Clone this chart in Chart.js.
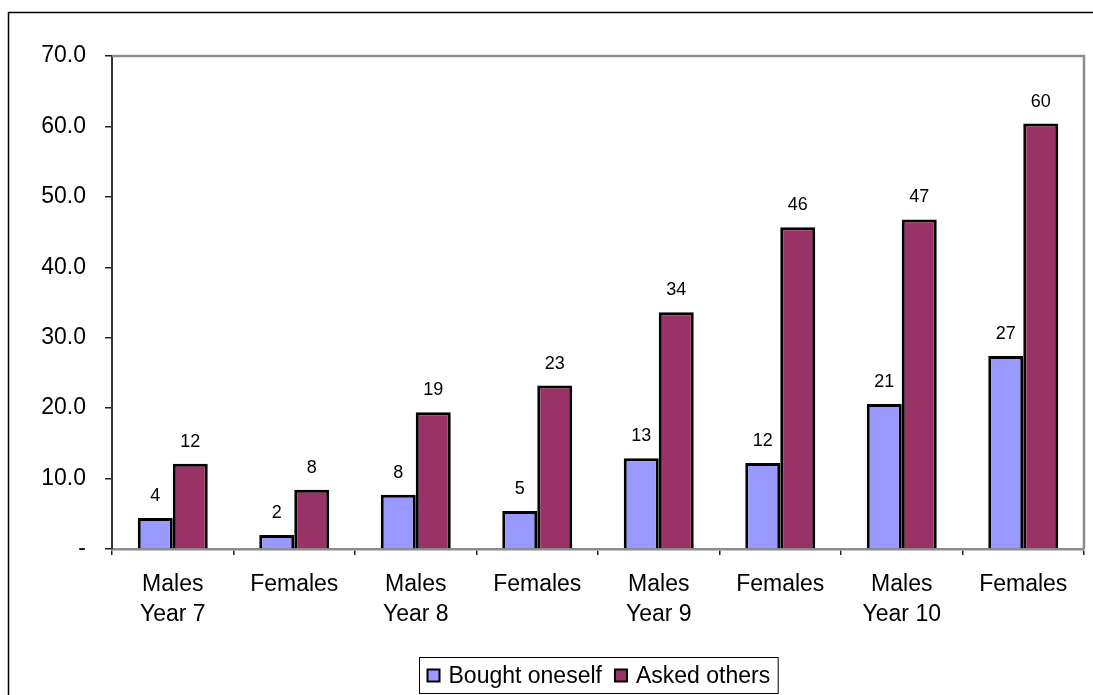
<!DOCTYPE html>
<html>
<head>
<meta charset="utf-8">
<script src="https://cdn.jsdelivr.net/npm/chart.js@4.4.0/dist/chart.umd.min.js"></script>
<style>
  html, body { margin: 0; padding: 0; background: #fff; }
  #wrap { width: 1093px; height: 695px; position: relative; }
</style>
</head>
<body>
<div id="wrap"><canvas id="BarChart" width="1093" height="695"></canvas></div>
<script>
const labels = [
  ['Males', 'Year 7'],
  'Females',
  ['Males', 'Year 8'],
  'Females',
  ['Males', 'Year 9'],
  'Females',
  ['Males', 'Year 10'],
  'Females',
];

const boughtOneself = [4.4, 2.0, 7.7, 5.4, 12.9, 12.2, 20.6, 27.4];
const askedOthers = [12.1, 8.4, 19.4, 23.2, 33.6, 45.7, 46.8, 60.4];

const font = 'Arial, "Liberation Sans", sans-serif';

// outer frame, plot border, value labels and legend box
const extras = {
  id: 'extras',
  beforeDraw(chart) {
    const ctx = chart.ctx;
    ctx.save();
    ctx.strokeStyle = '#000';
    ctx.lineWidth = 1.5;
    ctx.beginPath();
    ctx.moveTo(8.5, 695);
    ctx.lineTo(8.5, 12.5);
    ctx.lineTo(1093, 12.5);
    ctx.stroke();
    ctx.restore();
  },
  afterDatasetsDraw(chart) {
    const ctx = chart.ctx;
    const a = chart.chartArea;
    ctx.save();
    ctx.strokeStyle = '#8c8c8c';
    ctx.lineWidth = 2.5;
    ctx.beginPath();
    ctx.moveTo(a.left, a.top);
    ctx.lineTo(a.right, a.top);
    ctx.lineTo(a.right, a.bottom);
    ctx.stroke();

    // value labels
    ctx.fillStyle = '#000';
    ctx.font = '18px ' + font;
    ctx.textAlign = 'center';
    ctx.textBaseline = 'middle';
    chart.data.datasets.forEach((ds, i) => {
      chart.getDatasetMeta(i).data.forEach((bar, j) => {
        ctx.fillText(String(Math.round(ds.data[j])), bar.x, bar.y - 22);
      });
    });

    // legend
    ctx.font = '23px ' + font;
    ctx.textBaseline = 'middle';
    ctx.textAlign = 'left';
    const items = chart.data.datasets.map(ds => ({
      text: ds.label, color: ds.backgroundColor, w: ctx.measureText(ds.label).width
    }));
    const box = 12, gapBox = 9, gapItem = 13, pad = 8;
    let total = pad * 2;
    items.forEach((it, k) => { total += box + gapBox + it.w + (k ? gapItem : 0); });
    const cx = (a.left + a.right) / 2;
    const lx = Math.round(cx - total / 2) + 0.5;
    const ly = 657.5, lh = 36;
    ctx.strokeStyle = '#000';
    ctx.lineWidth = 1;
    ctx.strokeRect(lx, ly, total, lh);
    let x = lx + pad;
    const cy = ly + lh / 2;
    items.forEach((it, k) => {
      if (k) x += gapItem;
      ctx.fillStyle = it.color;
      ctx.fillRect(x, cy - box / 2, box, box);
      ctx.lineWidth = 2;
      ctx.strokeRect(x, cy - box / 2, box, box);
      x += box + gapBox;
      ctx.fillStyle = '#000';
      ctx.fillText(it.text, x, cy + 1);
      x += it.w;
    });
    ctx.restore();
  }
};

const dataBar = {
  labels: labels,
  datasets: [{
    label: 'Bought oneself',
    backgroundColor: '#9999ff',
    borderColor: '#000',
    borderWidth: 3,
    data: boughtOneself,
  }, {
    label: 'Asked others',
    backgroundColor: '#993366',
    borderColor: '#000',
    borderWidth: 3,
    data: askedOthers,
  }]
};

const configBar = {
  type: 'bar',
  data: dataBar,
  plugins: [extras],
  options: {
    responsive: false,
    animation: false,
    layout: { padding: { top: 56, right: 9, left: 0, bottom: 0 } },
    datasets: { bar: { categoryPercentage: 0.576, barPercentage: 1 } },
    plugins: {
      legend: { display: false },
      tooltip: { enabled: false }
    },
    scales: {
      x: {
        afterFit(scale) { scale.height = 146; },
        grid: {
          offset: true,
          drawOnChartArea: false,
          drawTicks: true,
          tickLength: 6,
          color: '#222',
          lineWidth: 1.5
        },
        border: { color: '#8c8c8c', width: 2.5 },
        ticks: {
          color: '#000',
          font: { family: font, size: 23, lineHeight: 1.3 },
          padding: 15,
          maxRotation: 0,
          autoSkip: false
        }
      },
      y: {
        min: 0,
        max: 70,
        afterFit(scale) { scale.width = 112; },
        grid: {
          drawOnChartArea: false,
          drawTicks: true,
          tickLength: 7,
          color: '#222',
          lineWidth: 1.5
        },
        border: { color: '#333', width: 2 },
        ticks: {
          stepSize: 10,
          color: '#000',
          padding: 19,
          font: { family: font, size: 23 },
          callback: v => v === 0 ? '-' : v.toFixed(1)
        }
      }
    }
  }
};

const barChart = new Chart(
  document.getElementById('BarChart'),
  configBar
);
</script>
</body>
</html>
